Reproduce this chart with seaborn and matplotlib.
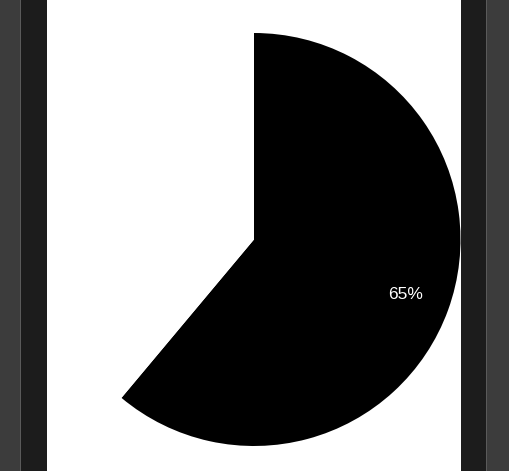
import matplotlib
matplotlib.use('Agg')
from matplotlib import pyplot as plt
from matplotlib.patches import Rectangle
import seaborn as sns

# slice values (black wedge labelled 65%, the rest blank)
slice_names = ['filled', 'empty']
slice_values = [65, 41.4]
slice_colors = ['#000000', '#ffffff']

W, H = 509, 471

sns.set_theme(style='white')
plt.rcParams['font.family'] = ['Liberation Sans', 'DejaVu Sans']

fig = plt.figure(figsize=(W / 100, H / 100), dpi=100)
fig.patch.set_facecolor('#3c3c3c')

# background axes in pixel units for the frame
bg = fig.add_axes([0, 0, 1, 1], zorder=-5)
bg.set_xlim(0, W)
bg.set_ylim(H, 0)
bg.axis('off')


def px_rect(x0, x1, color):
    bg.add_patch(Rectangle((x0, 0), x1 - x0, H, facecolor=color, edgecolor='none'))


# dark frame, its edge lines and the white page
px_rect(20, 487.5, '#1c1c1c')
px_rect(20, 21, '#5a5a5a')
px_rect(486.5, 487.5, '#5a5a5a')
px_rect(47, 460.6, '#ffffff')

# pie centred at (254, 239.5) px, radius 206.5 px
cx, cy, r = 254, H - 239.5, 206.5
ax = fig.add_axes([(cx - r) / W, (cy - r) / H, 2 * r / W, 2 * r / H], zorder=1)
ax.set_facecolor('none')

total = sum(slice_values)
wedges, texts, autotexts = ax.pie(
    slice_values, colors=slice_colors, startangle=90, counterclock=False,
    autopct=lambda p: '{:.0f}%'.format(p * total / 100) if p > 50 else '',
    pctdistance=0.78, wedgeprops={'linewidth': 0}, radius=1)
for t in autotexts:
    t.set_color('white')
    t.set_fontsize(12.5)

ax.set_xlim(-1, 1)
ax.set_ylim(-1, 1)
ax.set_aspect('equal')
ax.axis('off')

fig.savefig('out.png', dpi=100, facecolor=fig.get_facecolor())
